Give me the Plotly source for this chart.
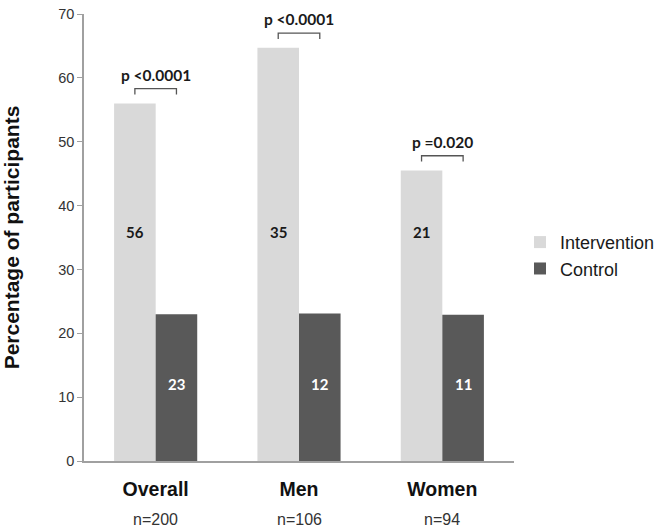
import plotly.graph_objects as go

categories = ["Overall", "Men", "Women"]
n_labels = ["n=200", "n=106", "n=94"]
intervention_pct = [56.0, 64.7, 45.5]
control_pct = [23.0, 23.1, 22.9]
intervention_n = ["56", "35", "21"]
control_n = ["23", "12", "11"]
p_values = ["p <0.0001", "p <0.0001", "p =0.020"]

C_INT = "#d9d9d9"
C_CTL = "#595959"
BODY = "Liberation Sans, Arial, sans-serif"
CAL = "Lato, Carlito, Calibri, sans-serif"

fig = go.Figure()
fig.add_trace(go.Bar(name="Intervention", x=categories, y=intervention_pct,
                     marker=dict(color=C_INT, line=dict(width=0))))
fig.add_trace(go.Bar(name="Control", x=categories, y=control_pct,
                     marker=dict(color=C_CTL, line=dict(width=0))))

bargap = 0.42
half = (1 - bargap) / 4  # center offset of each bar in category units

shapes = []
annotations = []
for i, cat in enumerate(categories):
    annotations.append(dict(x=i - half, y=35.8, xref="x", yref="y", text="<b>%s</b>" % intervention_n[i],
                            showarrow=False, font=dict(family=CAL, size=15, color="#1a1a1a")))
    annotations.append(dict(x=i + half, y=12, xref="x", yref="y", text="<b>%s</b>" % control_n[i],
                            showarrow=False, font=dict(family=CAL, size=15, color="#ffffff")))
    top = max(intervention_pct[i], control_pct[i]) + 2.3
    x0, x1 = i - half, i + half
    shapes.append(dict(type="path", xref="x", yref="y",
                       path="M %f,%f L %f,%f L %f,%f L %f,%f" % (x0, top - 0.9, x0, top, x1, top, x1, top - 0.9),
                       line=dict(color="#555555", width=1.3)))
    annotations.append(dict(x=i, y=top + 0.5, xref="x", yref="y", text="<b>%s</b>" % p_values[i],
                            showarrow=False, yanchor="bottom",
                            font=dict(family=CAL, size=15.5, color="#1a1a1a")))
    annotations.append(dict(x=i, y=-0.13, xref="x", yref="paper", text=n_labels[i],
                            showarrow=False, yanchor="middle",
                            font=dict(family=BODY, size=16, color="#333333")))

fig.update_layout(
    width=666, height=530,
    margin=dict(l=84, r=145, t=6, b=69),
    paper_bgcolor="white", plot_bgcolor="white",
    barmode="group", bargap=bargap, bargroupgap=0,
    showlegend=True,
    legend=dict(x=1.014, y=0.46, xanchor="left", yanchor="middle",
                font=dict(family=BODY, size=18, color="#1a1a1a"),
                bgcolor="rgba(0,0,0,0)"),
    shapes=shapes, annotations=annotations,
    font=dict(family=BODY),
)
fig.update_xaxes(showline=True, linecolor="#a0a0a0", linewidth=1.5, ticks="",
                 tickfont=dict(family=BODY, size=19.5, color="#111111"),
                 ticklabelstandoff=10,
                 tickprefix="<b>", ticksuffix="</b>", range=[-0.5, 2.5])
fig.update_yaxes(range=[0, 70], dtick=10, showgrid=False, zeroline=False,
                 showline=True, linecolor="#a0a0a0", linewidth=1.5,
                 ticks="outside", ticklen=5, tickcolor="#a0a0a0",
                 ticklabeloverflow="allow",
                 tickfont=dict(family=BODY, size=14.5, color="#333333"),
                 title=dict(text="<b>Percentage of participants</b>", standoff=36,
                            font=dict(family=BODY, size=21, color="#111111")))

fig.write_html("out.html", config={"displayModeBar": False},
               post_script="document.body.style.margin='0';")
